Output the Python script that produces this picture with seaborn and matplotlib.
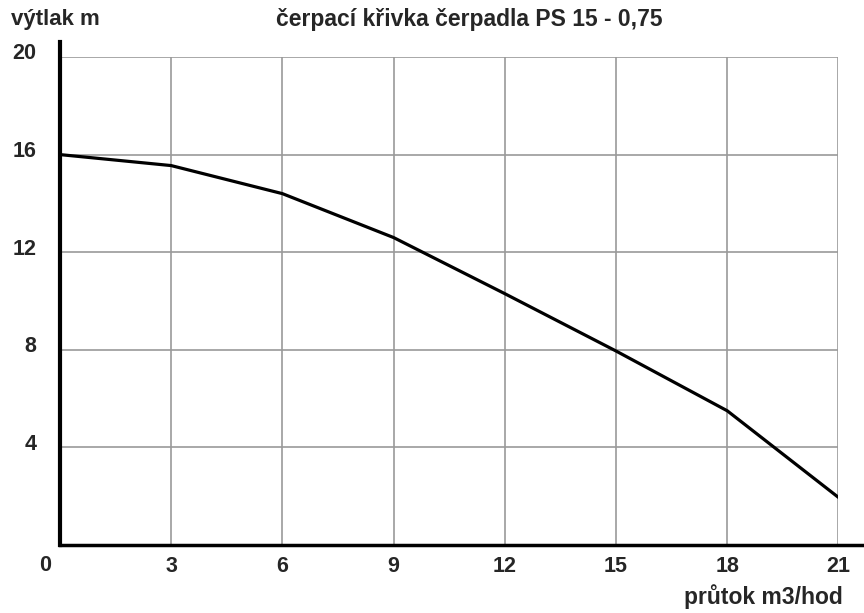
import numpy as np
import pandas as pd
import seaborn as sns
import matplotlib.pyplot as plt
import matplotlib.transforms as mtransforms

# cerpaci krivka PS 15 - 0,75
prutok = [0, 3, 6, 9, 12, 15, 18, 21]
vytlak = [16.0, 15.55, 14.4, 12.6, 10.3, 7.95, 5.5, 1.95]
xticks = [0, 3, 6, 9, 12, 15, 18, 21]
yticks = [4, 8, 12, 16, 20]

sns.set_style("white")
plt.rcParams['font.family'] = ['Liberation Sans', 'DejaVu Sans']

df = pd.DataFrame({"prutok": prutok, "vytlak": vytlak})

fig = plt.figure(figsize=(8.64, 6.13), dpi=100)
ax = fig.add_axes([0.0694, 0.111, 0.901, 0.796])

sns.lineplot(data=df, x="prutok", y="vytlak", color="black", linewidth=2.3, ax=ax)

ax.set_xlim(0, 21)
ax.set_ylim(0, 20)
ax.set_xticks(xticks)
ax.set_yticks(yticks)
ax.set_xticklabels([""] + [str(t) for t in xticks[1:]], fontsize=15.5, fontweight="bold")
ax.set_yticklabels([str(t) for t in yticks], fontsize=15.5, fontweight="bold")
ax.tick_params(axis="x", length=0, pad=8)
ax.tick_params(axis="y", length=0, pad=17)

# y labels sit a little above their grid lines
shift = mtransforms.ScaledTranslation(0, 4 / 72, fig.dpi_scale_trans)
for lab in ax.get_yticklabels():
    lab.set_transform(lab.get_transform() + shift)

ax.grid(True, color="#9a9a9a", linewidth=1.2)
ax.spines["top"].set_visible(False)
ax.spines["right"].set_visible(False)
ax.spines["left"].set_color("black")
ax.spines["left"].set_linewidth(3)
ax.spines["left"].set_bounds(0, 20.6)
ax.spines["bottom"].set_color("black")
ax.spines["bottom"].set_linewidth(2.5)
ax.spines["bottom"].set_bounds(0, 21.8)

ax.set_xlabel("")
ax.set_ylabel("")

ax.text(-0.4, -0.4, "0", ha="center", va="top", fontsize=15.5, fontweight="bold")
fig.text(0.013, 0.969, "výtlak m", ha="left", va="center", fontsize=16, fontweight="bold")
fig.text(0.543, 0.969, "čerpací křivka čerpadla PS 15 - 0,75", ha="center", va="center",
         fontsize=16.5, fontweight="bold")
fig.text(0.975, 0.026, "průtok m3/hod", ha="right", va="center", fontsize=16.5, fontweight="bold")

fig.savefig("out.png", dpi=100)
